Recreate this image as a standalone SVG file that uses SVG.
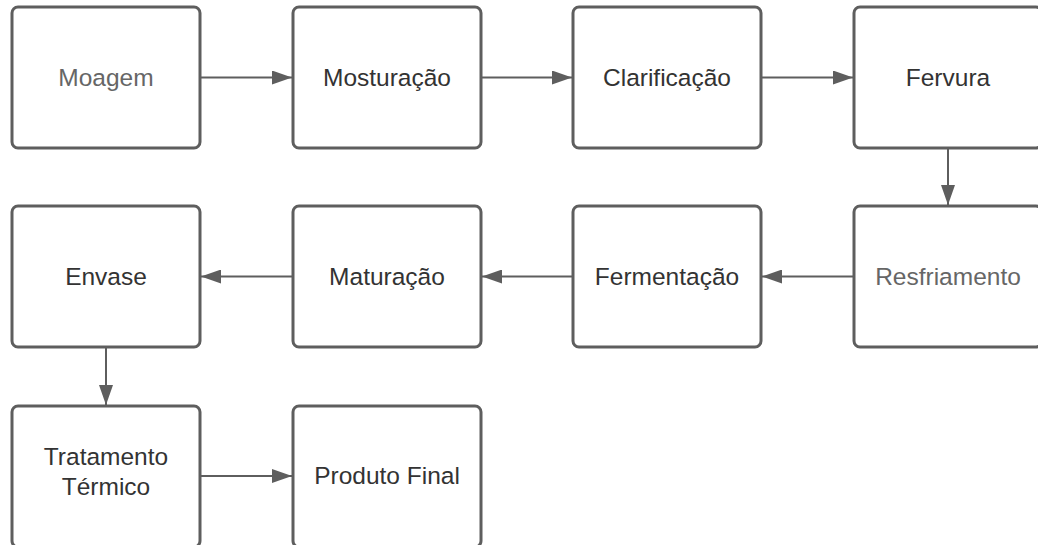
<svg xmlns="http://www.w3.org/2000/svg" width="1038" height="545" viewBox="0 0 1038 545">
<style>
.box{fill:#fff;stroke:#5e5e5e;stroke-width:3}
.t{font-family:"Liberation Sans",Arial,sans-serif;font-size:24.5px;text-anchor:middle;fill:#333}
.g{fill:#666}
.c{stroke:#5e5e5e;stroke-width:2;fill:none;marker-end:url(#ah)}
</style>
<defs>
<marker id="ah" viewBox="0 0 20 14" refX="20" refY="7" markerWidth="20" markerHeight="14" markerUnits="userSpaceOnUse" orient="auto">
<path d="M0,0 L20,7 L0,14 Z" fill="#5e5e5e"/>
</marker>
</defs>
<rect width="1038" height="545" fill="#fff"/>
<g id="connectors">
<line class="c" x1="200" y1="77.5" x2="292" y2="77.5"/>
<line class="c" x1="481" y1="77.5" x2="572" y2="77.5"/>
<line class="c" x1="761" y1="77.5" x2="853" y2="77.5"/>
<line class="c" x1="948" y1="148" x2="948" y2="205"/>
<line class="c" x1="854" y1="276.5" x2="762" y2="276.5"/>
<line class="c" x1="573" y1="276.5" x2="482" y2="276.5"/>
<line class="c" x1="293" y1="276.5" x2="201" y2="276.5"/>
<line class="c" x1="106" y1="347" x2="106" y2="405"/>
<line class="c" x1="200" y1="476" x2="292" y2="476"/>
</g>
<g id="n1"><rect class="box" x="12" y="7" width="188" height="141" rx="6"/><text class="t g" x="106" y="86">Moagem</text></g>
<g id="n2"><rect class="box" x="293" y="7" width="188" height="141" rx="6"/><text class="t" x="387" y="86">Mosturação</text></g>
<g id="n3"><rect class="box" x="573" y="7" width="188" height="141" rx="6"/><text class="t" x="667" y="86">Clarificação</text></g>
<g id="n4"><rect class="box" x="854" y="7" width="188" height="141" rx="6"/><text class="t" x="948" y="86">Fervura</text></g>
<g id="n5"><rect class="box" x="854" y="206" width="188" height="141" rx="6"/><text class="t g" x="948" y="285">Resfriamento</text></g>
<g id="n6"><rect class="box" x="573" y="206" width="188" height="141" rx="6"/><text class="t" x="667" y="285">Fermentação</text></g>
<g id="n7"><rect class="box" x="293" y="206" width="188" height="141" rx="6"/><text class="t" x="387" y="285">Maturação</text></g>
<g id="n8"><rect class="box" x="12" y="206" width="188" height="141" rx="6"/><text class="t" x="106" y="285">Envase</text></g>
<g id="n9"><rect class="box" x="12" y="406" width="188" height="141" rx="6"/><text class="t" x="106" y="465">Tratamento</text><text class="t" x="106" y="495">Térmico</text></g>
<g id="n10"><rect class="box" x="293" y="406" width="188" height="141" rx="6"/><text class="t" x="387" y="484">Produto Final</text></g>
</svg>
